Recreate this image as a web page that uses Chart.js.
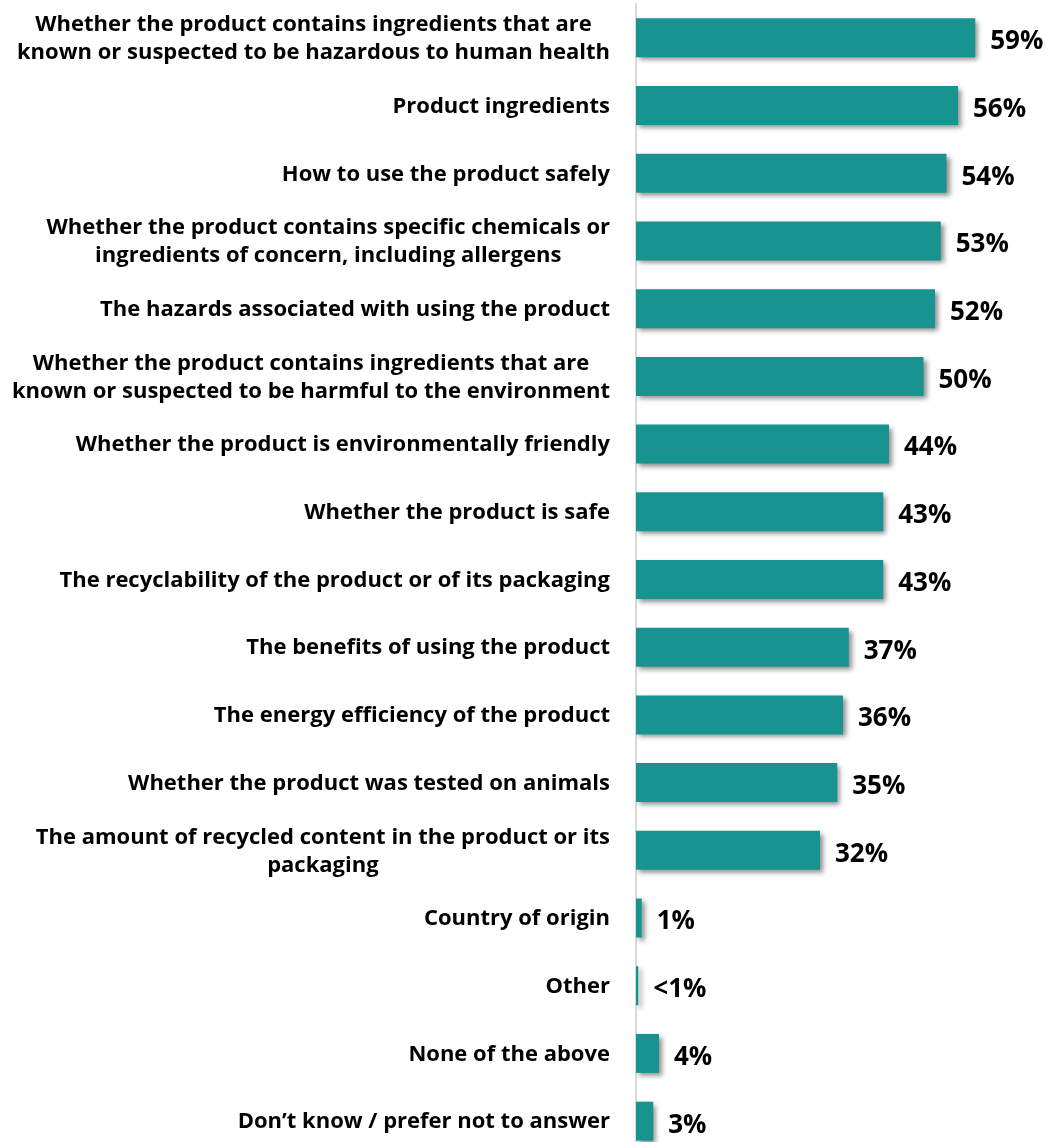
<!DOCTYPE html>
<html>
<head>
<meta charset="utf-8">
<script src="https://cdn.jsdelivr.net/npm/chart.js@4.4.1/dist/chart.umd.min.js"></script>
<style>
  html, body { margin: 0; padding: 0; background: #fff; overflow: hidden; }
  #wrap { position: absolute; left: 0; top: 0; width: 1052px; height: 1155px; }
</style>
</head>
<body>
<div id="wrap"><canvas id="grafica"></canvas></div>
<script>
// categorias (multi-line ones are arrays) y porcentajes
const categorias = [
    ['Whether the product contains ingredients that are', 'known or suspected to be hazardous to human health'],
    'Product ingredients',
    'How to use the product safely',
    ['Whether the product contains specific chemicals or', 'ingredients of concern, including allergens'],
    'The hazards associated with using the product',
    ['Whether the product contains ingredients that are', 'known or suspected to be harmful to the environment'],
    'Whether the product is environmentally friendly',
    'Whether the product is safe',
    'The recyclability of the product or of its packaging',
    'The benefits of using the product',
    'The energy efficiency of the product',
    'Whether the product was tested on animals',
    ['The amount of recycled content in the product or its', 'packaging'],
    'Country of origin',
    'Other',
    'None of the above',
    'Don\u2019t know / prefer not to answer'
];
const valores = [59, 56, 54, 53, 52, 50, 44, 43, 43, 37, 36, 35, 32, 1, 0.4, 4, 3];

const COLOR_BARRA = '#189490';
const FUENTE = '"Open Sans", "Noto Sans", sans-serif';

function etiquetaValor(v) {
    return v < 1 ? '<1%' : v + '%';
}

// sombra bajo las barras
const sombraBarras = {
    id: 'sombraBarras',
    beforeDatasetDraw(chart) {
        const ctx = chart.ctx;
        ctx.save();
        ctx.shadowColor = 'rgba(0,0,0,0.45)';
        ctx.shadowBlur = 5;
        ctx.shadowOffsetX = 3;
        ctx.shadowOffsetY = 3;
    },
    afterDatasetDraw(chart) {
        chart.ctx.restore();
    }
};

// etiquetas de categoria: bloque alineado a la derecha, lineas centradas
const etiquetasCategoria = {
    id: 'etiquetasCategoria',
    afterDraw(chart) {
        const ctx = chart.ctx;
        const y = chart.scales.y;
        const derecha = chart.chartArea.left - 26;
        const alto = 28;
        ctx.save();
        ctx.font = 'bold 22px ' + FUENTE;
        ctx.fillStyle = '#000';
        ctx.textAlign = 'center';
        ctx.textBaseline = 'middle';
        categorias.forEach((cat, i) => {
            const lineas = Array.isArray(cat) ? cat : [cat];
            const ancho = Math.max(...lineas.map(l => ctx.measureText(l).width));
            const cx = derecha - ancho / 2;
            const cy = y.getPixelForValue(i) + 1;
            lineas.forEach((l, k) => {
                ctx.fillText(l, cx, cy + (k - (lineas.length - 1) / 2) * alto);
            });
        });
        ctx.restore();
    }
};

// porcentajes al final de cada barra
const etiquetasValor = {
    id: 'etiquetasValor',
    afterDatasetsDraw(chart) {
        const ctx = chart.ctx;
        const meta = chart.getDatasetMeta(0);
        ctx.save();
        ctx.font = 'bold 26px ' + FUENTE;
        ctx.fillStyle = '#000';
        ctx.textAlign = 'left';
        ctx.textBaseline = 'middle';
        meta.data.forEach((bar, i) => {
            ctx.fillText(etiquetaValor(valores[i]), bar.x + 15, bar.y + 4);
        });
        ctx.restore();
    }
};

const ctx = document.getElementById('grafica').getContext('2d');
const chart = new Chart(ctx, {
    type: 'bar',
    data: {
        labels: categorias,
        datasets: [{
            data: valores,
            backgroundColor: COLOR_BARRA,
            borderWidth: 0,
            categoryPercentage: 1,
            barPercentage: 0.576
        }]
    },
    options: {
        indexAxis: 'y',
        responsive: true,
        maintainAspectRatio: false,
        animation: false,
        layout: { padding: { top: 4, right: 2, bottom: 0, left: 0 } },
        plugins: {
            legend: { display: false },
            tooltip: { enabled: false }
        },
        scales: {
            x: {
                display: false,
                min: 0,
                max: 72
            },
            y: {
                grid: { display: false, drawTicks: false },
                border: { display: true, color: '#d9d9d9', width: 2 },
                ticks: { display: false },
                afterFit(scale) { scale.width = 636; }
            }
        }
    },
    plugins: [sombraBarras, etiquetasCategoria, etiquetasValor]
});
</script>
</body>
</html>
